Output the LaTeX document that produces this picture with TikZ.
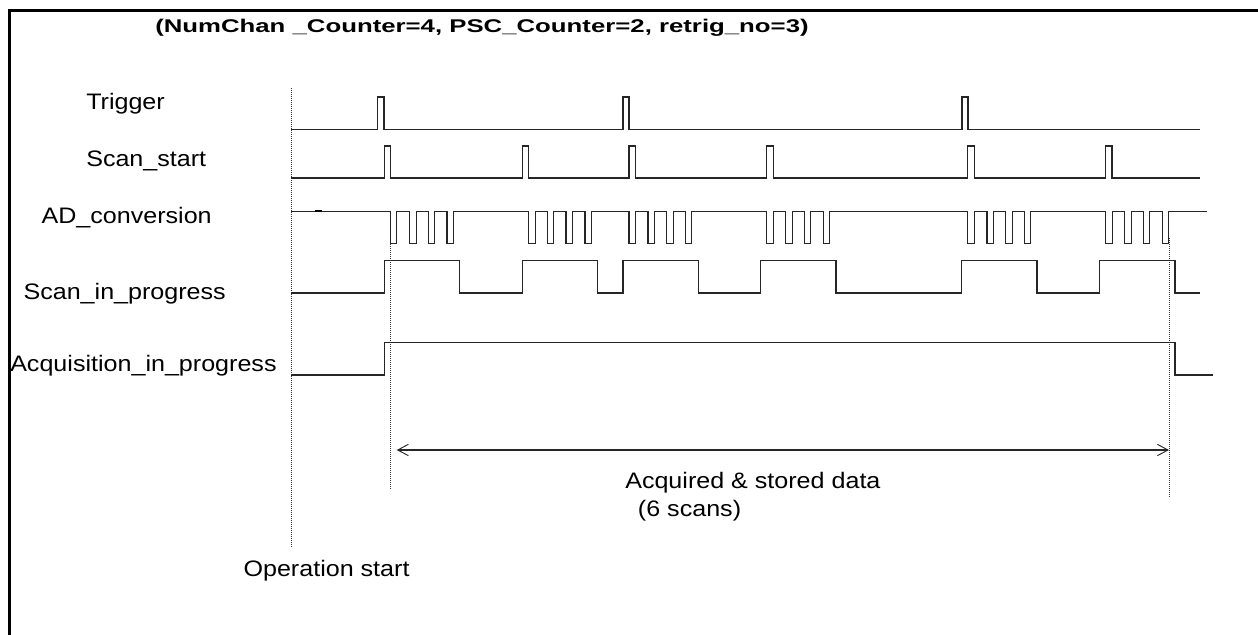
\documentclass[tikz,border=0pt]{standalone}
\usepackage{fontspec}
\usetikzlibrary{arrows.meta}
\newfontfamily\lblfont[FakeStretch=1.12]{Liberation Sans}
\newfontfamily\ttlfont[FakeStretch=1.4]{Liberation Sans}
\begin{document}
\begin{tikzpicture}[x=0.75pt,y=-0.75pt,
  lbl/.style={inner sep=0pt,anchor=base west,font=\lblfont\fontsize{16.8}{19}\selectfont},
  ttl/.style={inner sep=0pt,anchor=base west,font=\ttlfont\bfseries\fontsize{13.8}{16}\selectfont},
  sig/.style={line width=0.85pt,black!85,line join=miter},
  dots/.style={line width=0.7pt,black!80,dash pattern=on 0.6pt off 0.9pt},
  frame/.style={line width=2.1pt,black},
  span/.style={line width=0.8pt,black!85,{Straight Barb[length=8pt,width=8.5pt,line width=0.7pt]}-{Straight Barb[length=8pt,width=8.5pt,line width=0.7pt]}}]
\useasboundingbox (0,0) rectangle (1258,635);
% frame (top and left only)
\draw[frame] (9.3,635) -- (9.3,10.5) -- (1258,10.5);
% title
\node[ttl] (title) at (155,32.5) {(NumChan \_Counter=4, PSC\_Counter=2, retrig\_no=3)};
% signal labels
\node[lbl] (ltrig) at (86,110) {Trigger};
\node[lbl] (lscan) at (86,166.5) {Scan\_start};
\node[lbl] (lad) at (41.3,223.3) {AD\_conversion};
\node[lbl] (lsip) at (23.3,299.3) {Scan\_in\_progress};
\node[lbl] (laip) at (10,371.7) {Acquisition\_in\_progress};
\node[lbl] (lop) at (243.3,576.7) {Operation start};
\node[lbl] (lacq) at (625,488.3) {Acquired \& stored data};
\node[lbl] (lsix) at (637.7,516.5) {(6 scans)};
% dotted markers
\coordinate (d0t) at (291,88);
\coordinate (d0b) at (291,546.7);
\coordinate (d1t) at (390.7,244);
\coordinate (d1b) at (390.7,488.7);
\coordinate (d2t) at (1169,238);
\coordinate (d2b) at (1169,497);
\draw[dots] (d0t) -- (d0b);
\draw[dots] (d1t) -- (d1b);
\draw[dots] (d2t) -- (d2b);
% Trigger
\draw[sig] (291,129.5) -- (377.7,129.5) -- (377.7,97) -- (384,97) -- (384,129.5)
  -- (623,129.5) -- (623,97) -- (629,97) -- (629,129.5)
  -- (962,129.5) -- (962,97) -- (968,97) -- (968,129.5) -- (1200,129.5);
% Scan_start
\draw[sig] (291,178) -- (384.3,178) -- (384.3,146) -- (390.3,146) -- (390.3,178)
  -- (522.3,178) -- (522.3,146) -- (528.7,146) -- (528.7,178)
  -- (629,178) -- (629,146) -- (635.3,146) -- (635.3,178)
  -- (766.7,178) -- (766.7,146) -- (773.3,146) -- (773.3,178)
  -- (967.7,178) -- (967.7,146) -- (974.3,146) -- (974.3,178)
  -- (1105.7,178) -- (1105.7,146) -- (1112,146) -- (1112,178) -- (1200,178);
% AD_conversion
\draw[sig] (291,211.7)
  -- (390.3,211.7) -- (390.3,243.7) -- (396.7,243.7) -- (396.7,211.7)
  -- (409.7,211.7) -- (409.7,243.7) -- (416.1,243.7) -- (416.1,211.7)
  -- (428.3,211.7) -- (428.3,243.7) -- (434.7,243.7) -- (434.7,211.7)
  -- (447,211.7) -- (447,243.7) -- (453.4,243.7) -- (453.4,211.7)
  -- (528.7,211.7) -- (528.7,243.7) -- (535.1,243.7) -- (535.1,211.7)
  -- (547.3,211.7) -- (547.3,243.7) -- (553.7,243.7) -- (553.7,211.7)
  -- (566,211.7) -- (566,243.7) -- (572.4,243.7) -- (572.4,211.7)
  -- (585,211.7) -- (585,243.7) -- (591.4,243.7) -- (591.4,211.7)
  -- (629,211.7) -- (629,243.7) -- (635.4,243.7) -- (635.4,211.7)
  -- (648,211.7) -- (648,243.7) -- (654.4,243.7) -- (654.4,211.7)
  -- (666.7,211.7) -- (666.7,243.7) -- (673.1,243.7) -- (673.1,211.7)
  -- (685.3,211.7) -- (685.3,243.7) -- (691.7,243.7) -- (691.7,211.7)
  -- (766.7,211.7) -- (766.7,243.7) -- (773.1,243.7) -- (773.1,211.7)
  -- (785.7,211.7) -- (785.7,243.7) -- (792.1,243.7) -- (792.1,211.7)
  -- (804.3,211.7) -- (804.3,243.7) -- (810.7,243.7) -- (810.7,211.7)
  -- (823.3,211.7) -- (823.3,243.7) -- (829.7,243.7) -- (829.7,211.7)
  -- (967.7,211.7) -- (967.7,243.7) -- (974.1,243.7) -- (974.1,211.7)
  -- (987,211.7) -- (987,243.7) -- (993.4,243.7) -- (993.4,211.7)
  -- (1005.7,211.7) -- (1005.7,243.7) -- (1012.1,243.7) -- (1012.1,211.7)
  -- (1024.3,211.7) -- (1024.3,243.7) -- (1030.7,243.7) -- (1030.7,211.7)
  -- (1105.7,211.7) -- (1105.7,243.7) -- (1112.1,243.7) -- (1112.1,211.7)
  -- (1124.7,211.7) -- (1124.7,243.7) -- (1131.1,243.7) -- (1131.1,211.7)
  -- (1143.3,211.7) -- (1143.3,243.7) -- (1149.7,243.7) -- (1149.7,211.7)
  -- (1162.3,211.7) -- (1162.3,243.7) -- (1168.7,243.7) -- (1168.7,211.7)
  -- (1206.7,211.7);
\draw[line width=1.6pt,black] (315,211.2) -- (322,211.2);
% Scan_in_progress
\draw[sig] (291,293) -- (384.3,293) -- (384.3,260.3) -- (459.7,260.3) -- (459.7,293)
  -- (522.3,293) -- (522.3,260.3) -- (597.3,260.3) -- (597.3,293)
  -- (623,293) -- (623,260.3) -- (698.3,260.3) -- (698.3,293)
  -- (760.7,293) -- (760.7,260.3) -- (836,260.3) -- (836,293)
  -- (961.7,293) -- (961.7,260.3) -- (1037,260.3) -- (1037,293)
  -- (1099.7,293) -- (1099.7,260.3) -- (1175,260.3) -- (1175,293) -- (1200,293);
% Acquisition_in_progress
\draw[sig] (291,375) -- (384.3,375) -- (384.3,342.7) -- (1175,342.7) -- (1175,375) -- (1212.7,375);
% span arrow
\coordinate (aL) at (396.7,450);
\coordinate (aR) at (1169,450);
\draw[span] (aL) -- (aR);
\end{tikzpicture}
\end{document}
